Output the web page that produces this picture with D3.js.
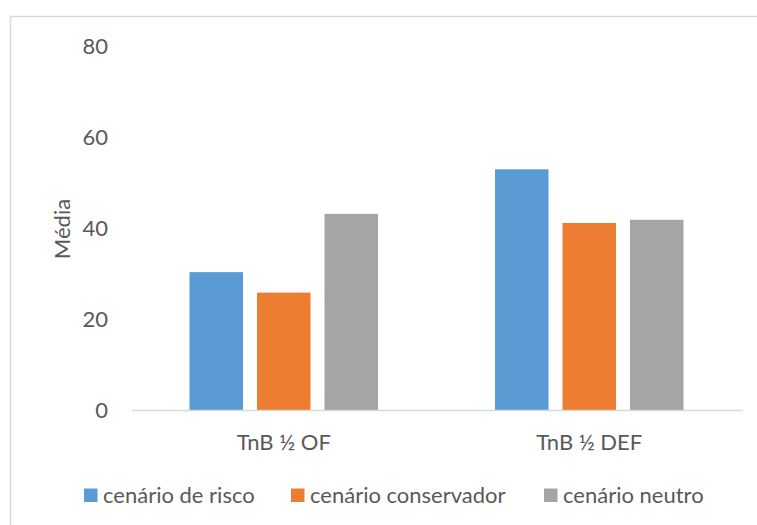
<!DOCTYPE html>
<html>
<head>
<meta charset="utf-8">
<script src="https://cdn.jsdelivr.net/npm/d3@7/dist/d3.min.js"></script>
<style>
  html, body { margin: 0; padding: 0; background: #fff; }
  svg { display: block; }
  text { font-family: Lato, "Open Sans", sans-serif; fill: #595959; }
</style>
</head>
<body>
<svg id="chart" width="757" height="525"></svg>
<script>
// Categories, series and values
const categories = ["TnB ½ OF", "TnB ½ DEF"];
const seriesNames = ["cenário de risco", "cenário conservador", "cenário neutro"];
const seriesColors = ["#5B9BD5", "#ED7D31", "#A5A5A5"];
const risco = [30.3, 52.9];
const conservador = [25.8, 41.1];
const neutro = [43.1, 41.8];
const yTicks = [0, 20, 40, 60, 80];
const yTitle = "Média";

const seriesValues = [risco, conservador, neutro];

const svg = d3.select("#chart");

// Chart frame
svg.append("rect")
  .attr("x", 10.5).attr("y", 16.5)
  .attr("width", 800).attr("height", 600)
  .attr("fill", "#fff")
  .attr("stroke", "#d9d9d9")
  .attr("stroke-width", 1.5);

const plot = { left: 131, right: 742, top: 46, bottom: 410 };

const x0 = d3.scaleBand()
  .domain(categories)
  .range([plot.left, plot.right])
  .padding(0);

const groupPad = 58.5;
const x1 = d3.scaleBand()
  .domain(seriesNames)
  .range([groupPad, x0.bandwidth() - groupPad])
  .paddingInner(0.207)
  .paddingOuter(0);

const y = d3.scaleLinear()
  .domain([0, 80])
  .range([plot.bottom, plot.top]);

// Bars
const rows = categories.map((c, ci) => ({
  category: c,
  values: seriesNames.map((s, si) => ({ series: s, color: seriesColors[si], value: seriesValues[si][ci] }))
}));

const groups = svg.append("g").selectAll("g")
  .data(rows)
  .join("g")
  .attr("transform", d => `translate(${x0(d.category)},0)`);

groups.selectAll("rect")
  .data(d => d.values)
  .join("rect")
  .attr("x", d => x1(d.series))
  .attr("y", d => y(d.value))
  .attr("width", x1.bandwidth())
  .attr("height", d => y(0) - y(d.value))
  .attr("fill", d => d.color);

// Y axis labels (no axis line or gridlines)
const yAxis = d3.axisLeft(y).tickValues(yTicks).tickSize(0).tickPadding(0);
const yG = svg.append("g")
  .attr("transform", `translate(${plot.left - 23},0)`)
  .call(yAxis);
yG.select(".domain").remove();
yG.selectAll("text")
  .style("font-family", "Lato, 'Open Sans', sans-serif")
  .attr("font-size", 22)
  .attr("fill", "#595959")
  .attr("dy", "0.35em");

// X axis
const xAxis = d3.axisBottom(x0).tickSize(0).tickPadding(0);
const xG = svg.append("g")
  .attr("transform", `translate(0,${plot.bottom})`)
  .call(xAxis);
xG.select(".domain")
  .attr("stroke", "#d9d9d9")
  .attr("stroke-width", 1.5);
xG.selectAll("text")
  .style("font-family", "Lato, 'Open Sans', sans-serif")
  .attr("font-size", 22)
  .attr("fill", "#595959")
  .attr("y", 32)
  .attr("dy", "0.35em");

// Y axis title
svg.append("text")
  .attr("transform", `translate(62,${(plot.top + plot.bottom) / 2 + 1}) rotate(-90)`)
  .attr("text-anchor", "middle")
  .attr("dy", "0.35em")
  .attr("font-size", 22)
  .text(yTitle);

// Legend
const legendX = [84, 291, 544];
const legend = svg.append("g");
seriesNames.forEach((s, i) => {
  legend.append("rect")
    .attr("x", legendX[i]).attr("y", 488.5)
    .attr("width", 13.5).attr("height", 13.5)
    .attr("fill", seriesColors[i]);
  legend.append("text")
    .attr("x", legendX[i] + 19).attr("y", 495)
    .attr("dy", "0.35em")
    .attr("font-size", 22)
    .text(s);
});
</script>
</body>
</html>
